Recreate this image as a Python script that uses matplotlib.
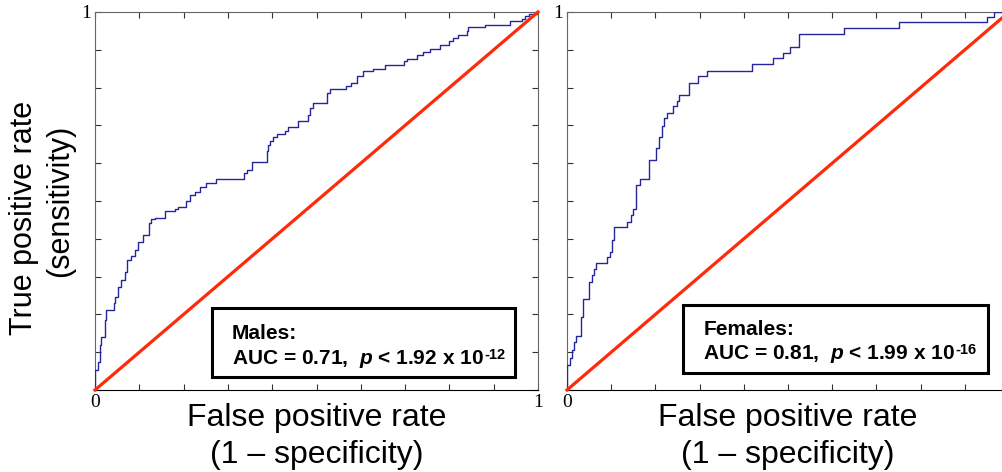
import numpy as np
import matplotlib
matplotlib.use("Agg")
import matplotlib.pyplot as plt
from matplotlib.patches import Rectangle

# ROC curve corners (fpr, tpr)
males_fpr = [0.000, 0.000, 0.007, 0.011, 0.014, 0.022, 0.024, 0.044, 0.046, 0.052,
             0.059, 0.067, 0.073, 0.082, 0.090, 0.097, 0.108, 0.123, 0.127, 0.135,
             0.157, 0.181, 0.187, 0.206, 0.214, 0.225, 0.236, 0.251, 0.274, 0.336,
             0.342, 0.354, 0.388, 0.391, 0.395, 0.402, 0.410, 0.429, 0.436, 0.459,
             0.481, 0.485, 0.491, 0.524, 0.530, 0.566, 0.577, 0.591, 0.606, 0.628,
             0.655, 0.698, 0.704, 0.726, 0.741, 0.756, 0.779, 0.798, 0.809, 0.820,
             0.839, 0.843, 0.880, 0.937, 0.965, 0.971, 0.980, 1.000]
males_tpr = [0.000, 0.053, 0.074, 0.119, 0.140, 0.185, 0.212, 0.230, 0.246, 0.272,
             0.291, 0.312, 0.344, 0.354, 0.370, 0.392, 0.410, 0.442, 0.452, 0.455,
             0.474, 0.479, 0.484, 0.500, 0.516, 0.524, 0.537, 0.548, 0.558, 0.574,
             0.583, 0.603, 0.632, 0.648, 0.659, 0.669, 0.677, 0.686, 0.695, 0.712,
             0.728, 0.746, 0.759, 0.786, 0.796, 0.803, 0.812, 0.830, 0.843, 0.850,
             0.859, 0.871, 0.876, 0.885, 0.894, 0.903, 0.912, 0.922, 0.931, 0.938,
             0.951, 0.960, 0.966, 0.975, 0.982, 0.989, 0.995, 1.000]

females_fpr = [0.000, 0.000, 0.007, 0.011, 0.016, 0.020, 0.031, 0.036, 0.037, 0.050,
               0.056, 0.061, 0.066, 0.090, 0.097, 0.101, 0.106, 0.136, 0.144, 0.149,
               0.156, 0.165, 0.186, 0.201, 0.209, 0.214, 0.219, 0.226, 0.240, 0.248,
               0.254, 0.277, 0.297, 0.316, 0.418, 0.467, 0.488, 0.505, 0.526, 0.627,
               0.751, 0.951, 0.966, 1.000]
females_tpr = [0.000, 0.066, 0.085, 0.106, 0.128, 0.143, 0.194, 0.234, 0.241, 0.287,
               0.304, 0.319, 0.335, 0.351, 0.366, 0.397, 0.432, 0.445, 0.463, 0.478,
               0.542, 0.557, 0.608, 0.639, 0.669, 0.698, 0.719, 0.734, 0.751, 0.765,
               0.780, 0.811, 0.831, 0.845, 0.862, 0.878, 0.892, 0.908, 0.941, 0.957,
               0.974, 0.988, 1.000, 1.000]

groups = ["Males", "Females"]
auc = ["0.71", "0.81"]
p_mant = ["1.92", "1.99"]
p_exp = ["-12", "-16"]

plt.rcParams["font.family"] = ["Liberation Sans", "DejaVu Sans"]
plt.rcParams["mathtext.fontset"] = "custom"
plt.rcParams["mathtext.rm"] = "Liberation Sans:bold"
plt.rcParams["mathtext.bf"] = "Liberation Sans:bold"
plt.rcParams["mathtext.it"] = "Liberation Sans:italic:bold"

W, H = 1002, 472
fig = plt.figure(figsize=(W / 100, H / 100), dpi=100)

def px(x, y):
    return x / W, 1 - y / H

# axes boxes in pixels: left, top, width, height
boxes = [(95, 12, 443, 378), (567, 12, 442, 378)]
curves = [(males_fpr, males_tpr), (females_fpr, females_tpr)]
# annotation frames in data units: x0, y0, x1, y1, text x, line1 y, line2 y
frames = [(0.263, 0.035, 0.948, 0.217, 0.309, 0.135, 0.068),
          (0.263, 0.044, 0.953, 0.225, 0.308, 0.146, 0.082)]

ticks = np.arange(0, 1.01, 0.1)
for i, (l, t, w, h) in enumerate(boxes):
    ax = fig.add_axes([l / W, 1 - (t + h) / H, w / W, h / H])
    fpr, tpr = curves[i]
    ax.plot(fpr, tpr, drawstyle="steps-post", color="#26269c", lw=1.0, zorder=3)
    ax.plot([0, 1], [0, 1], color="#ff2a0a", lw=2.3, zorder=4, clip_on=False)
    ax.set_xlim(0, 1)
    ax.set_ylim(0, 1)
    ax.set_xticks(ticks)
    ax.set_yticks(ticks)
    # right panel runs past the figure edge, so its "1" is not shown
    ax.set_xticklabels(["0"] + [""] * 9 + ["1" if i == 0 else ""])
    ax.set_yticklabels([""] * 10 + ["1"])
    ax.tick_params(direction="in", length=4, width=0.8, color="#333333",
                   top=True, right=True, labelsize=14, pad=3)
    for lab in ax.get_xticklabels() + ax.get_yticklabels():
        lab.set_fontfamily("Liberation Serif")
    for side in ["left", "top", "right"]:
        ax.spines[side].set_color("#666666")
    ax.spines["bottom"].set_color("black")

    x0, y0, x1, y1, tx, ty1, ty2 = frames[i]
    ax.add_patch(Rectangle((x0, y0), x1 - x0, y1 - y0, fill=True, facecolor="white",
                           edgecolor="black", lw=2.2, zorder=5))
    ax.text(tx, ty1, groups[i] + ":", fontsize=15, fontweight="bold",
            va="baseline", zorder=6)
    main = ax.text(tx, ty2, "AUC = " + auc[i] + r",  $\mathit{p}$ < " + p_mant[i] + " x 10",
                   fontsize=15, fontweight="bold", va="baseline", zorder=6)
    ax.annotate(p_exp[i], xy=(1, 1), xycoords=main, xytext=(0.5, 0),
                textcoords="offset points", ha="left", va="top",
                fontsize=10.5, fontweight="bold", zorder=6)

    cx = l + w / 2
    fig.text(*px(cx, 418), "False positive rate", fontsize=23, ha="center", va="center")
    fig.text(*px(cx, 455), "(1 \u2013 specificity)", fontsize=23, ha="center", va="center")

fig.text(*px(24, 218), "True positive rate", fontsize=22, rotation=90,
         ha="center", va="center")
fig.text(*px(60, 201), "(sensitivity)", fontsize=22, rotation=90,
         ha="center", va="center")

fig.savefig("out.png", dpi=100)
